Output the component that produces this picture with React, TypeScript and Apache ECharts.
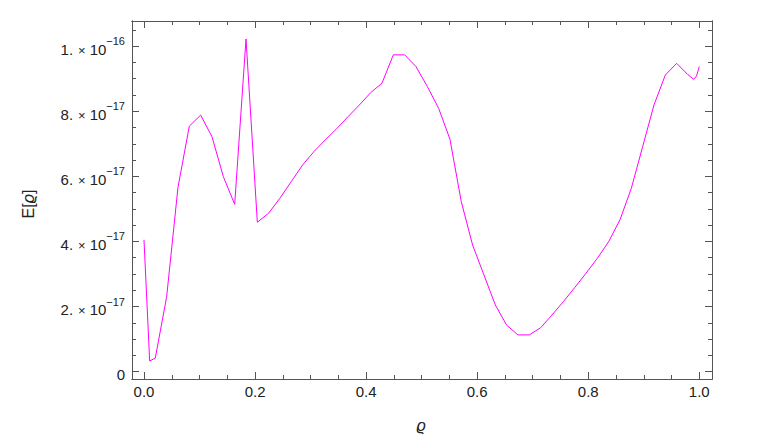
import { useEffect, useRef } from 'react';
import * as echarts from 'echarts';

const rho = [
  0, 0.0102, 0.0204, 0.0408, 0.0612, 0.0816, 0.102, 0.1224, 0.1429, 0.1633,
  0.1837, 0.2041, 0.2245, 0.2449, 0.2653, 0.2857, 0.3061, 0.3265, 0.3469, 0.3673,
  0.3878, 0.4082, 0.4286, 0.449, 0.4694, 0.4898, 0.5102, 0.5306, 0.551, 0.5714,
  0.5918, 0.6122, 0.6327, 0.6531, 0.6735, 0.6939, 0.7143, 0.7347, 0.7551, 0.7755,
  0.7959, 0.8163, 0.8367, 0.8571, 0.8776, 0.898, 0.9184, 0.9388, 0.9592, 0.9796,
  0.99, 0.995, 1.0,
];

const energy = [
  4.05e-17, 0.33e-17, 0.42e-17, 2.30e-17, 5.66e-17, 7.54e-17, 7.88e-17, 7.22e-17, 5.99e-17, 5.14e-17,
  10.22e-17, 4.59e-17, 4.87e-17, 5.33e-17, 5.84e-17, 6.35e-17, 6.76e-17, 7.12e-17, 7.46e-17, 7.83e-17,
  8.19e-17, 8.57e-17, 8.86e-17, 9.73e-17, 9.73e-17, 9.37e-17, 8.76e-17, 8.09e-17, 7.14e-17, 5.22e-17,
  3.89e-17, 2.97e-17, 2.05e-17, 1.43e-17, 1.13e-17, 1.13e-17, 1.35e-17, 1.74e-17, 2.15e-17, 2.58e-17,
  3.02e-17, 3.48e-17, 3.99e-17, 4.66e-17, 5.63e-17, 6.91e-17, 8.19e-17, 9.11e-17, 9.47e-17, 9.12e-17,
  8.98e-17, 9.08e-17, 9.37e-17,
];

const xMajorTicks = [0, 0.2, 0.4, 0.6, 0.8, 1.0];
const xMinorTicks = [0.05, 0.1, 0.15, 0.25, 0.3, 0.35, 0.45, 0.5, 0.55, 0.65, 0.7, 0.75, 0.85, 0.9, 0.95];
const yMajorTicks = [0, 2e-17, 4e-17, 6e-17, 8e-17, 1e-16];
const yMinorTicks = [
  0.5e-17, 1e-17, 1.5e-17, 2.5e-17, 3e-17, 3.5e-17, 4.5e-17, 5e-17, 5.5e-17,
  6.5e-17, 7e-17, 7.5e-17, 8.5e-17, 9e-17, 9.5e-17, 10.5e-17,
];

const X_MIN = -0.0216;
const X_MAX = 1.0229;
const Y_MIN = -0.224e-17;
const Y_MAX = 10.77e-17;

const FRAME = '#555555';
const FONT = 'Liberation Sans, Arial, sans-serif';

function yLabel(v: number): string {
  if (Math.abs(v) < 1e-30) return '{m|0}';
  const e = Math.floor(Math.log10(Math.abs(v)) + 1e-6);
  const m = Math.round(v / Math.pow(10, e));
  return `{m|${m}.}{x|×}{m|10}{s|−${Math.abs(e)}}`;
}

function xAxisDef(position: string, ticks: number[], len: number, labels: boolean) {
  return {
    type: 'value',
    position,
    min: X_MIN,
    max: X_MAX,
    axisLine: { show: true, onZero: false, lineStyle: { color: FRAME, width: 1 } },
    axisTick: { show: true, inside: true, length: len, customValues: ticks, lineStyle: { color: FRAME, width: 1 } },
    axisLabel: labels
      ? {
          show: true,
          customValues: ticks,
          margin: 5,
          color: '#222',
          fontFamily: FONT,
          fontSize: 15,
          formatter: (v: number) => v.toFixed(1),
        }
      : { show: false },
    splitLine: { show: false },
  };
}

function yAxisDef(position: string, ticks: number[], len: number, labels: boolean) {
  return {
    type: 'value',
    position,
    min: Y_MIN,
    max: Y_MAX,
    axisLine: { show: true, onZero: false, lineStyle: { color: FRAME, width: 1 } },
    axisTick: { show: true, inside: true, length: len, customValues: ticks, lineStyle: { color: FRAME, width: 1 } },
    axisLabel: labels
      ? {
          show: true,
          customValues: ticks,
          margin: 7,
          color: '#222',
          fontFamily: FONT,
          formatter: yLabel,
          rich: {
            m: { fontSize: 15, fontFamily: FONT, color: '#222', lineHeight: 21, verticalAlign: 'bottom' },
            x: { fontSize: 13, fontFamily: FONT, color: '#222', padding: [0, 4, 0, 5], lineHeight: 21, verticalAlign: 'bottom' },
            s: { fontSize: 11, fontFamily: FONT, color: '#222', lineHeight: 14, verticalAlign: 'top' },
          },
        }
      : { show: false },
    splitLine: { show: false },
  };
}

export default function App() {
  const ref = useRef<HTMLDivElement>(null);

  useEffect(() => {
    if (!ref.current) return;
    const chart = echarts.init(ref.current, null, { renderer: 'svg' });
    const data = rho.map((r, i) => [r, energy[i]]);
    chart.setOption({
      animation: false,
      backgroundColor: '#ffffff',
      grid: { left: 132, right: 60, top: 21, bottom: 62, containLabel: false },
      xAxis: [
        xAxisDef('bottom', xMajorTicks, 7, true),
        xAxisDef('bottom', xMinorTicks, 4, false),
        xAxisDef('top', xMajorTicks, 7, false),
        xAxisDef('top', xMinorTicks, 4, false),
      ],
      yAxis: [
        yAxisDef('left', yMajorTicks, 7, true),
        yAxisDef('left', yMinorTicks, 4, false),
        yAxisDef('right', yMajorTicks, 7, false),
        yAxisDef('right', yMinorTicks, 4, false),
      ],
      graphic: [
        {
          type: 'text',
          x: 28,
          y: 204,
          rotation: Math.PI / 2,
          style: {
            text: '{n|E[}{i|ϱ}{n|]}',
            align: 'center',
            verticalAlign: 'middle',
            rich: {
              n: { fontSize: 16, fontFamily: FONT, fill: '#222' },
              i: { fontSize: 16, fontFamily: FONT, fontStyle: 'italic', fill: '#222' },
            },
          },
        },
        {
          type: 'text',
          x: 421,
          y: 425,
          style: {
            text: 'ϱ',
            align: 'center',
            verticalAlign: 'middle',
            fontSize: 16,
            fontFamily: FONT,
            fontStyle: 'italic',
            fill: '#222',
          },
        },
      ],
      series: [
        {
          type: 'line',
          xAxisIndex: 0,
          yAxisIndex: 0,
          data,
          showSymbol: false,
          symbol: 'none',
          lineStyle: { color: '#ff00ff', width: 1 },
          silent: true,
        },
      ],
    });
    return () => chart.dispose();
  }, []);

  return (
    <div
      ref={ref}
      style={{ position: 'absolute', left: 0, top: 0, width: 772, height: 441, background: '#fff' }}
    />
  );
}
